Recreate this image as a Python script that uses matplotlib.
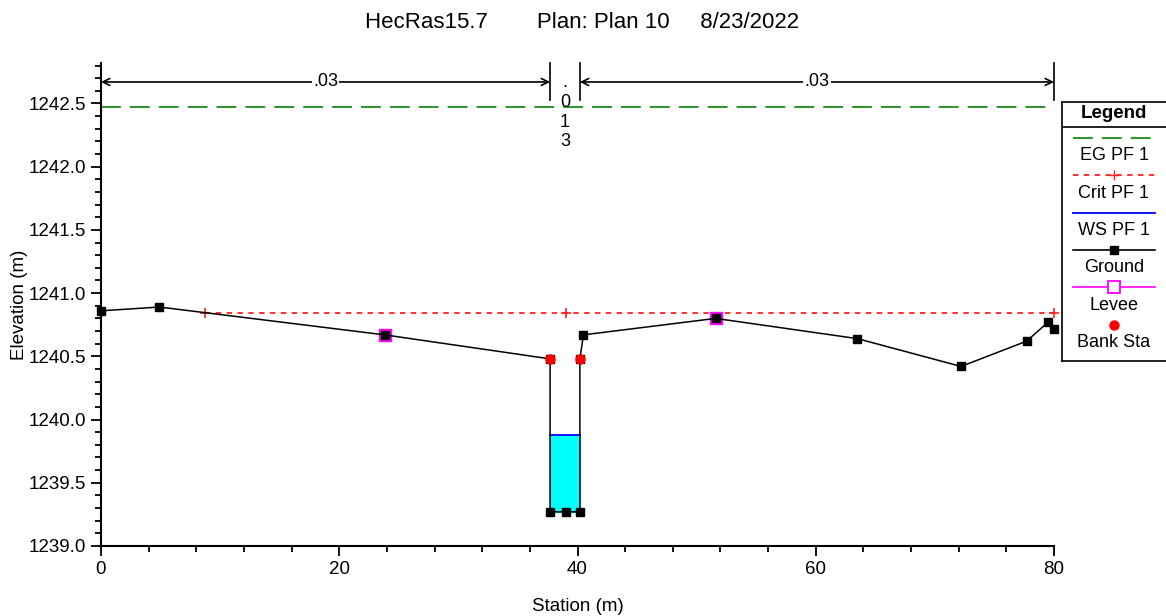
import numpy as np
import matplotlib
matplotlib.use("Agg")
import matplotlib.pyplot as plt

plt.rcParams['font.family'] = ['Liberation Sans', 'DejaVu Sans']

# ground profile
station = [0.0, 4.9, 23.8, 37.7, 37.7, 39.0, 40.2, 40.2, 40.5, 51.6, 63.5, 72.2, 77.7, 79.5, 80.0]
ground = [1240.86, 1240.89, 1240.67, 1240.48, 1239.27, 1239.27, 1239.27, 1240.48, 1240.67,
          1240.80, 1240.64, 1240.42, 1240.62, 1240.77, 1240.72]

levee_sta = [23.8, 51.6]
levee_elev = [1240.67, 1240.80]

bank_sta = [37.7, 40.2]
bank_elev = [1240.48, 1240.48]

eg_elev = 1242.47
crit_sta = [8.7, 39.0, 80.0]
crit_elev = 1240.84
ws_elev = 1239.88
bed_elev = 1239.27

n_values = ['.03', '.013', '.03']
n_bounds = [0.0, 37.7, 40.2, 80.0]

title_txt = "HecRas15.7        Plan: Plan 10     8/23/2022"

fig = plt.figure(figsize=(11.66, 6.16), dpi=100)
ax = fig.add_axes([101/1166, 1-546/616, (1054-101)/1166, (546-63)/616])

# water in channel
ax.fill_between(bank_sta, [bed_elev]*2, [ws_elev]*2, color='#00ffff', zorder=1)
ax.plot(bank_sta, [ws_elev]*2, color='blue', lw=1.3, zorder=2)

# EG
ax.plot([0, 80], [eg_elev]*2, color='#1a8c1a', lw=1.3, dashes=(11, 5), zorder=2)
# Crit
ax.plot([crit_sta[0], crit_sta[-1]], [crit_elev]*2, color='#ff2020', lw=1.3, dashes=(3, 3), zorder=2)
ax.plot(crit_sta, [crit_elev]*3, ls='none', marker='+', color='#ff2020', ms=7, mew=1.2,
        zorder=3, clip_on=False)

# levee
ax.plot(levee_sta, levee_elev, ls='none', marker='s', ms=9, mfc='#ff00ff', mec='#ff00ff', zorder=3)
# ground
ax.plot(station, ground, color='black', lw=1.1, marker='s', ms=5.8, zorder=4, clip_on=False)
# bank stations
ax.plot(bank_sta, bank_elev, ls='none', marker='o', ms=6.5, color='#ff0000', zorder=5)

# manning n
y_arr = 1242.67
for k, v in enumerate(n_values):
    x0, x1 = n_bounds[k], n_bounds[k+1]
    if x1 - x0 > 10:
        ax.annotate('', xy=(x0, y_arr), xytext=(x1, y_arr),
                    arrowprops=dict(arrowstyle='<->,head_length=0.5,head_width=0.25',
                                    color='black', lw=1.2, shrinkA=0, shrinkB=0), zorder=3)
        ax.text((x0+x1)/2, y_arr, v, ha='center', va='center', fontsize=13,
                bbox=dict(fc='white', ec='none', pad=1), zorder=4)
    else:
        ax.text((x0+x1)/2, 1242.73, '\n'.join(v), ha='center', va='top', fontsize=13,
                linespacing=1.2, zorder=4)
for xb in n_bounds[1:]:
    ax.plot([xb, xb], [1242.53, 1242.82], color='black', lw=1.2, clip_on=False)

ax.set_xlim(0, 80)
ax.set_ylim(1239.0, 1242.82)
ax.set_xticks([0, 20, 40, 60, 80])
ax.set_xticks(np.arange(0, 81, 4), minor=True)
ax.set_yticks(np.arange(1239.0, 1242.6, 0.5))
ax.set_yticks(np.arange(1239.0, 1242.81, 0.1), minor=True)
ax.yaxis.set_major_formatter(matplotlib.ticker.FormatStrFormatter('%.1f'))
for s in ['top', 'right']:
    ax.spines[s].set_visible(False)
for s in ['left', 'bottom']:
    ax.spines[s].set_linewidth(1.5)
ax.tick_params(which='both', direction='out', width=1.3, labelsize=13.5, pad=4)
ax.tick_params(which='major', length=7)
ax.tick_params(which='minor', length=4)
ax.set_xlabel('Station (m)', fontsize=13.5, labelpad=14)
ax.set_ylabel('Elevation (m)', fontsize=13.5, labelpad=0)

fig.text(0.499, 1-22/616, title_txt, ha='center', va='center', fontsize=16)

# legend box
lg = fig.add_axes([1062/1166, 1-361/616, 120/1166, (361-102)/616])
lg.set_xlim(1062, 1182)
lg.set_ylim(361, 102)
lg.set_xticks([])
lg.set_yticks([])
for s in lg.spines.values():
    s.set_linewidth(1.2)
lg.axhline(127, color='black', lw=1.2)
lg.text(1114, 114, 'Legend', ha='center', va='center', fontsize=13.5, fontweight='bold')

entries = ['EG PF 1', 'Crit PF 1', 'WS PF 1', 'Ground', 'Levee', 'Bank Sta']
ys = 138 + 37.3 * np.arange(len(entries))
lx = [1073, 1155]
lg.plot(lx, [ys[0]]*2, color='#1a8c1a', lw=1.3, dashes=(11, 5))
lg.plot(lx, [ys[1]]*2, color='#ff2020', lw=1.3, dashes=(3, 3))
lg.plot([1114], [ys[1]], marker='+', color='#ff2020', ms=7)
lg.plot(lx, [ys[2]]*2, color='blue', lw=1.3)
lg.plot(lx, [ys[3]]*2, color='black', lw=1.2)
lg.plot([1114], [ys[3]], marker='s', color='black', ms=6)
lg.plot(lx, [ys[4]]*2, color='#ff00ff', lw=1.2)
lg.plot([1114], [ys[4]], marker='s', mfc='white', mec='#ff00ff', ms=8, mew=1.3)
lg.plot([1114], [ys[5]], marker='o', color='#ff0000', ms=6.5)
for y, t in zip(ys, entries):
    lg.text(1114, y + 18, t, ha='center', va='center', fontsize=13)

fig.savefig('out.png', dpi=100)
